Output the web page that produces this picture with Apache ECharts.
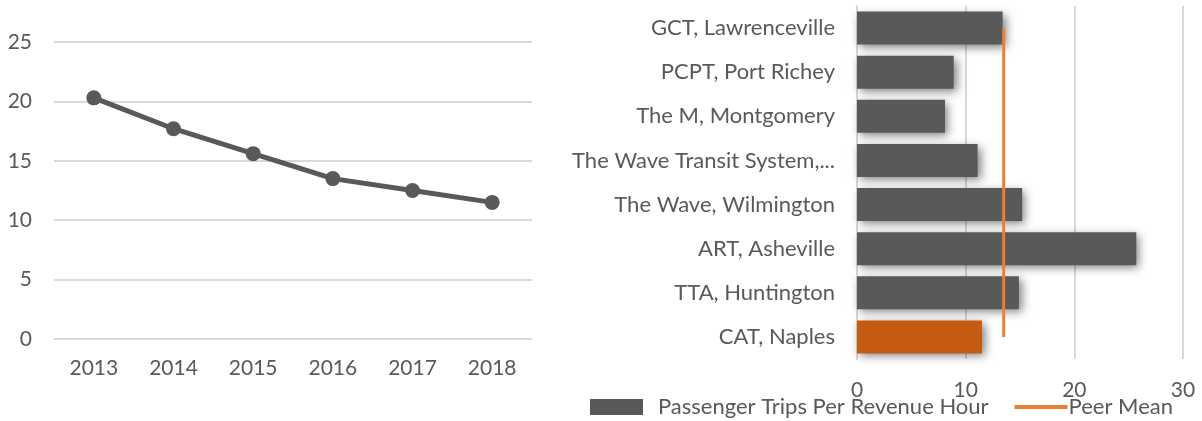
<!DOCTYPE html>
<html>
<head>
<meta charset="utf-8">
<script src="https://cdn.jsdelivr.net/npm/echarts@6/dist/echarts.min.js"></script>
<style>
  html, body { margin: 0; padding: 0; background: #fff; }
  #chart { width: 1202px; height: 421px; }
</style>
</head>
<body>
<div id="chart"></div>
<script>
// left chart: trend by year
const years = ['2013', '2014', '2015', '2016', '2017', '2018'];
const tripsByYear = [20.3, 17.7, 15.6, 13.5, 12.5, 11.5];

// right chart: peer comparison
const agencies = [
  'GCT, Lawrenceville',
  'PCPT, Port Richey',
  'The M, Montgomery',
  'The Wave Transit System,...',
  'The Wave, Wilmington',
  'ART, Asheville',
  'TTA, Huntington',
  'CAT, Naples'
];
const tripsPerHour = [13.4, 8.9, 8.1, 11.1, 15.2, 25.7, 14.9, 11.5];
const peerMean = [13.5, 13.5, 13.5, 13.5, 13.5, 13.5, 13.5, 13.5];
const highlightAgency = 'CAT, Naples';

const textColor = '#595959';
const gridColor = '#d9d9d9';
const fontFamily = 'Lato, "Open Sans", sans-serif';

const chart = echarts.init(document.getElementById('chart'));
const option = {
  animation: false,
  textStyle: { fontFamily: fontFamily },
  grid: [
    { left: 54, right: 670, top: 42, bottom: 82 },
    { left: 857, right: 19, top: 6, bottom: 62 }
  ],
  legend: {
    left: 590,
    top: 396,
    padding: 0,
    itemWidth: 53,
    itemHeight: 16,
    itemGap: 26,
    symbolKeepAspect: true,
    textStyle: { color: textColor, fontSize: 22, fontFamily: fontFamily },
    data: [
      { name: 'Passenger Trips Per Revenue Hour', icon: 'rect' },
      { name: 'Peer Mean', icon: 'path://M0,0H53V4H0Z' }
    ]
  },
  xAxis: [
    {
      gridIndex: 0,
      type: 'category',
      data: years,
      axisLine: { show: false },
      axisTick: { show: false },
      axisLabel: { color: textColor, fontSize: 21, margin: 19 }
    },
    {
      gridIndex: 1,
      type: 'value',
      min: 0,
      max: 30,
      interval: 10,
      axisLine: { show: false },
      axisTick: { show: false },
      axisLabel: { color: textColor, fontSize: 21, margin: 21 },
      splitLine: { lineStyle: { color: gridColor, width: 2 } }
    }
  ],
  yAxis: [
    {
      gridIndex: 0,
      type: 'value',
      min: 0,
      max: 25,
      interval: 5,
      axisLine: { show: false },
      axisTick: { show: false },
      axisLabel: { color: textColor, fontSize: 21, margin: 22 },
      splitLine: { lineStyle: { color: gridColor, width: 2 } }
    },
    {
      gridIndex: 1,
      type: 'category',
      inverse: true,
      data: agencies,
      axisLine: { lineStyle: { color: gridColor, width: 2 } },
      axisTick: { show: false },
      axisLabel: { color: textColor, fontSize: 22, margin: 22 }
    }
  ],
  series: [
    {
      name: 'Trips by Year',
      type: 'line',
      xAxisIndex: 0,
      yAxisIndex: 0,
      data: tripsByYear,
      symbol: 'circle',
      symbolSize: 15,
      itemStyle: { color: '#595959' },
      lineStyle: { color: '#595959', width: 5 }
    },
    {
      name: 'Passenger Trips Per Revenue Hour',
      type: 'bar',
      xAxisIndex: 1,
      yAxisIndex: 1,
      data: tripsPerHour,
      barCategoryGap: '25%',
      itemStyle: {
        color: function (p) {
          return p.name === highlightAgency ? '#c55a11' : '#595959';
        },
        shadowBlur: 9,
        shadowOffsetX: 3,
        shadowOffsetY: 3,
        shadowColor: 'rgba(0,0,0,0.5)'
      }
    },
    {
      name: 'Peer Mean',
      type: 'line',
      xAxisIndex: 1,
      yAxisIndex: 1,
      data: peerMean,
      symbol: 'none',
      z: 5,
      itemStyle: { color: '#ed7d31' },
      lineStyle: { color: '#ed7d31', width: 3 }
    }
  ]
};
chart.setOption(option);
// legend swatch for the bars: plain dark grey, no shadow, wider gap before its text
chart.setOption({ legend: { data: [
  {
    name: 'Passenger Trips Per Revenue Hour',
    icon: 'rect',
    itemStyle: { color: '#595959', shadowBlur: 0, shadowOffsetX: 0, shadowOffsetY: 0 },
    textStyle: { padding: [0, 0, 0, 10] }
  },
  { name: 'Peer Mean', icon: 'path://M0,0H53V4H0Z', textStyle: { padding: [0, 0, 0, -4] } }
] } });
</script>
</body>
</html>
